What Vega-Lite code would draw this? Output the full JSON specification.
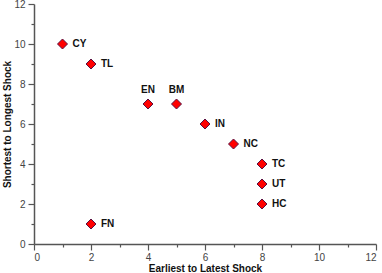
{
  "$schema": "https://vega.github.io/schema/vega-lite/v6.json",
  "width": 342,
  "height": 240,
  "autosize": {"type": "none"},
  "padding": {"left": 34, "top": 4, "right": 6, "bottom": 29},
  "background": "white",
  "config": {
    "view": {"stroke": null},
    "font": "Liberation Sans",
    "axis": {
      "grid": false,
      "domainColor": "#555555",
      "domainWidth": 1.5,
      "tickColor": "#555555",
      "tickWidth": 1.2,
      "labelColor": "#444444",
      "labelFont": "Liberation Sans",
      "labelFontSize": 10,
      "titleFont": "Liberation Sans",
      "titleFontSize": 10,
      "titleFontWeight": "bold",
      "titleColor": "#111111"
    }
  },
  "data": {
    "values": [
      {"label": "CY", "earliest": 1, "shortest": 10},
      {"label": "TL", "earliest": 2, "shortest": 9},
      {"label": "EN", "earliest": 4, "shortest": 7},
      {"label": "BM", "earliest": 5, "shortest": 7},
      {"label": "IN", "earliest": 6, "shortest": 6},
      {"label": "NC", "earliest": 7, "shortest": 5},
      {"label": "TC", "earliest": 8, "shortest": 4},
      {"label": "UT", "earliest": 8, "shortest": 3},
      {"label": "HC", "earliest": 8, "shortest": 2},
      {"label": "FN", "earliest": 2, "shortest": 1}
    ]
  },
  "resolve": {"axis": {"x": "independent", "y": "independent"}},
  "layer": [
    {
      "mark": {"type": "point", "opacity": 0},
      "encoding": {
        "x": {"field": "earliest", "type": "quantitative", "scale": {"domain": [0, 12], "nice": false, "zero": false},
              "axis": {"orient": "bottom", "values": [1, 3, 5, 7, 9, 11], "labels": false, "tickSize": 3, "domain": false, "title": null}},
        "y": {"field": "shortest", "type": "quantitative", "scale": {"domain": [0, 12], "nice": false, "zero": false},
              "axis": {"orient": "left", "values": [1, 3, 5, 7, 9, 11], "labels": false, "tickSize": 3, "domain": false, "title": null}}
      }
    },
    {
      "mark": {"type": "point", "shape": "diamond", "filled": true, "size": 100, "fill": "#ff0000", "stroke": "#5a1040", "strokeWidth": 1, "opacity": 1},
      "encoding": {
        "x": {"field": "earliest", "type": "quantitative", "scale": {"domain": [0, 12], "nice": false, "zero": false},
              "axis": {"orient": "bottom", "values": [0, 2, 4, 6, 8, 10, 12], "tickSize": 6, "labelPadding": 2, "titlePadding": 1, "title": "Earliest to Latest Shock"}},
        "y": {"field": "shortest", "type": "quantitative", "scale": {"domain": [0, 12], "nice": false, "zero": false},
              "axis": {"orient": "left", "values": [0, 2, 4, 6, 8, 10, 12], "tickSize": 6, "labelPadding": 3, "titlePadding": 1, "title": "Shortest to Longest Shock"}}
      }
    },
    {
      "transform": [{"filter": {"not": {"field": "label", "oneOf": ["EN", "BM"]}}}],
      "mark": {"type": "text", "align": "left", "baseline": "middle", "dx": 10, "fontWeight": "bold", "fontSize": 10, "color": "#111111", "font": "Liberation Sans"},
      "encoding": {
        "x": {"field": "earliest", "type": "quantitative", "scale": {"domain": [0, 12], "nice": false, "zero": false}, "axis": null},
        "y": {"field": "shortest", "type": "quantitative", "scale": {"domain": [0, 12], "nice": false, "zero": false}, "axis": null},
        "text": {"field": "label"}
      }
    },
    {
      "transform": [{"filter": {"field": "label", "oneOf": ["EN", "BM"]}}],
      "mark": {"type": "text", "align": "center", "baseline": "middle", "dy": -14, "fontWeight": "bold", "fontSize": 10, "color": "#111111", "font": "Liberation Sans"},
      "encoding": {
        "x": {"field": "earliest", "type": "quantitative", "scale": {"domain": [0, 12], "nice": false, "zero": false}, "axis": null},
        "y": {"field": "shortest", "type": "quantitative", "scale": {"domain": [0, 12], "nice": false, "zero": false}, "axis": null},
        "text": {"field": "label"}
      }
    }
  ]
}
